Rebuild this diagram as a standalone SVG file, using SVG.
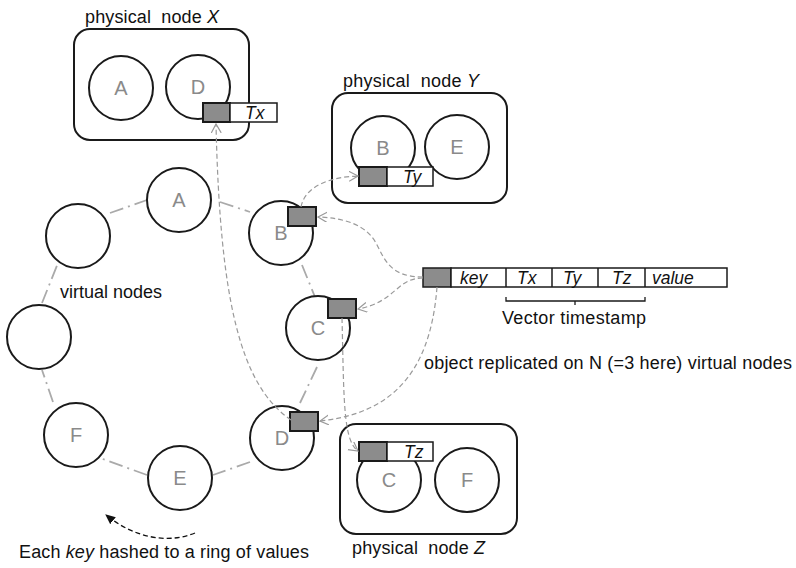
<svg xmlns="http://www.w3.org/2000/svg" width="796" height="568" viewBox="0 0 796 568">
<defs>
<style>
.bg{fill:#fff}
.phys{fill:#fff;stroke:#1a1a1a;stroke-width:2}
.vn{fill:#fff;stroke:#1a1a1a;stroke-width:2}
.lbl{font-family:"Liberation Sans",Arial,sans-serif;font-size:20px;fill:#8a8a8a;text-anchor:middle}
.txt{font-family:"Liberation Sans",Arial,sans-serif;font-size:18px;fill:#111}
.it{font-style:italic}
.cell{font-family:"Liberation Sans",Arial,sans-serif;font-size:17.5px;font-style:italic;fill:#111}
.gbox{fill:#8c8c8c;stroke:#1a1a1a;stroke-width:2}
.wbox{fill:#fff;stroke:#1a1a1a;stroke-width:1.5}
.ring{fill:none;stroke:#aaaaaa;stroke-width:1.8;stroke-dasharray:14 5 2 5}
.arr{fill:none;stroke:#9a9a9a;stroke-width:1.2;stroke-dasharray:5 3;marker-end:url(#open)}
.blk{fill:none;stroke:#111;stroke-width:1.3;stroke-dasharray:5 3;marker-end:url(#solid)}
</style>
<marker id="open" markerWidth="12" markerHeight="12" refX="9" refY="5" orient="auto" markerUnits="userSpaceOnUse">
<path d="M0,0 L9,5 L0,10" fill="none" stroke="#9a9a9a" stroke-width="1.2"/>
</marker>
<marker id="solid" markerWidth="12" markerHeight="12" refX="9" refY="4.5" orient="auto" markerUnits="userSpaceOnUse">
<path d="M0,0 L10,4.5 L0,9 Z" fill="#111"/>
</marker>
</defs>
<rect class="bg" x="0" y="0" width="796" height="568"/>

<g id="ring-links">
<line class="ring" x1="110" y1="213" x2="147" y2="200"/>
<line class="ring" x1="220" y1="202" x2="250" y2="212"/>
<line class="ring" x1="302" y1="265" x2="315" y2="297"/>
<line class="ring" x1="317" y1="367" x2="300" y2="403"/>
<line class="ring" x1="250" y1="462" x2="213" y2="475"/>
<line class="ring" x1="147" y1="475" x2="100" y2="458"/>
<line class="ring" x1="53" y1="402" x2="42" y2="370"/>
<line class="ring" x1="42" y1="303" x2="58" y2="263"/>
</g>

<g id="phys-x">
<text class="txt" x="85" y="23" xml:space="preserve" textLength="134">physical  node <tspan class="it">X</tspan></text>
<rect class="phys" x="74" y="29" width="175" height="111" rx="16"/>
<circle class="vn" cx="121" cy="88" r="32"/>
<text class="lbl" x="121" y="95">A</text>
<circle class="vn" cx="198" cy="87" r="32"/>
<text class="lbl" x="198" y="94">D</text>
<rect class="gbox" x="203" y="103" width="27" height="19"/>
<rect class="wbox" x="230" y="103" width="47" height="19"/>
<text class="cell" x="245" y="119">Tx</text>
</g>

<g id="phys-y">
<text class="txt" x="343" y="87" xml:space="preserve" textLength="136">physical  node <tspan class="it">Y</tspan></text>
<rect class="phys" x="332" y="93" width="175" height="110" rx="16"/>
<circle class="vn" cx="383" cy="148" r="32"/>
<text class="lbl" x="383" y="155">B</text>
<circle class="vn" cx="457" cy="147" r="32"/>
<text class="lbl" x="457" y="154">E</text>
<rect class="gbox" x="359" y="167" width="28" height="19"/>
<rect class="wbox" x="387" y="167" width="46" height="19"/>
<text class="cell" x="403" y="183">Ty</text>
</g>

<g id="phys-z">
<rect class="phys" x="340" y="424" width="177" height="110" rx="16"/>
<circle class="vn" cx="389" cy="480" r="32"/>
<text class="lbl" x="389" y="487">C</text>
<circle class="vn" cx="467" cy="480" r="32"/>
<text class="lbl" x="467" y="487">F</text>
<rect class="gbox" x="359" y="442" width="28" height="19"/>
<rect class="wbox" x="387" y="442" width="46" height="19"/>
<text class="cell" x="404" y="458">Tz</text>
<text class="txt" x="352" y="554" xml:space="preserve" textLength="133">physical  node <tspan class="it">Z</tspan></text>
</g>

<g id="vnode-a"><circle class="vn" cx="179" cy="200" r="32"/><text class="lbl" x="179" y="207">A</text></g>
<g id="vnode-b"><circle class="vn" cx="281" cy="233" r="32"/><text class="lbl" x="281" y="240">B</text><rect class="gbox" x="288" y="207" width="28" height="19"/></g>
<g id="vnode-c"><circle class="vn" cx="318" cy="328" r="32"/><text class="lbl" x="318" y="335">C</text><rect class="gbox" x="328" y="299" width="28" height="19"/></g>
<g id="vnode-d"><circle class="vn" cx="282" cy="438" r="32"/><text class="lbl" x="282" y="445">D</text><rect class="gbox" x="290" y="412" width="28" height="19"/></g>
<g id="vnode-e"><circle class="vn" cx="180" cy="478" r="32"/><text class="lbl" x="180" y="485">E</text></g>
<g id="vnode-f"><circle class="vn" cx="76" cy="435" r="32"/><text class="lbl" x="76" y="442">F</text></g>
<g id="vnode-left"><circle class="vn" cx="39" cy="337" r="32"/></g>
<g id="vnode-topleft"><circle class="vn" cx="78" cy="236" r="32"/></g>

<g id="record">
<rect class="gbox" x="423" y="268" width="28" height="19" style="stroke-width:1.5"/>
<rect class="wbox" x="451" y="268" width="276" height="19"/>
<line x1="506" y1="268" x2="506" y2="287" stroke="#1a1a1a" stroke-width="1.5"/>
<line x1="552" y1="268" x2="552" y2="287" stroke="#1a1a1a" stroke-width="1.5"/>
<line x1="598" y1="268" x2="598" y2="287" stroke="#1a1a1a" stroke-width="1.5"/>
<line x1="645" y1="268" x2="645" y2="287" stroke="#1a1a1a" stroke-width="1.5"/>
<text class="cell" x="460" y="284">key</text>
<text class="cell" x="517" y="284">Tx</text>
<text class="cell" x="563" y="284">Ty</text>
<text class="cell" x="612" y="284">Tz</text>
<text class="cell" x="652" y="284">value</text>
<path d="M506,297 L506,301 L645,301 L645,297 M575,301 L575,305" fill="none" stroke="#1a1a1a" stroke-width="1.3"/>
<text class="txt" x="502" y="324" textLength="144">Vector timestamp</text>
</g>

<g id="connectors">
<path class="arr" d="M423,277 C390,277 385,260 376,243 C366,225 345,218 318,217"/>
<path class="arr" d="M423,278 C396,278 396,302 358,309"/>
<path class="arr" d="M437,287 C430,380 385,414 320,421"/>
<path class="arr" d="M301,207 C305,186 330,177 358,176"/>
<path class="arr" d="M342,318 C344,400 343,440 358,451"/>
<path class="arr" d="M291,420 C240,385 220,300 216,124"/>
<path class="blk" d="M195,533 C165,545 132,536 106,515"/>
</g>

<g id="labels">
<text class="txt" x="60" y="298" textLength="102">virtual nodes</text>
<text class="txt" x="424" y="369" textLength="368">object replicated on N (=3 here) virtual nodes</text>
<text class="txt" x="19" y="558" textLength="290">Each <tspan class="it">key</tspan> hashed to a ring of values</text>
</g>
</svg>
